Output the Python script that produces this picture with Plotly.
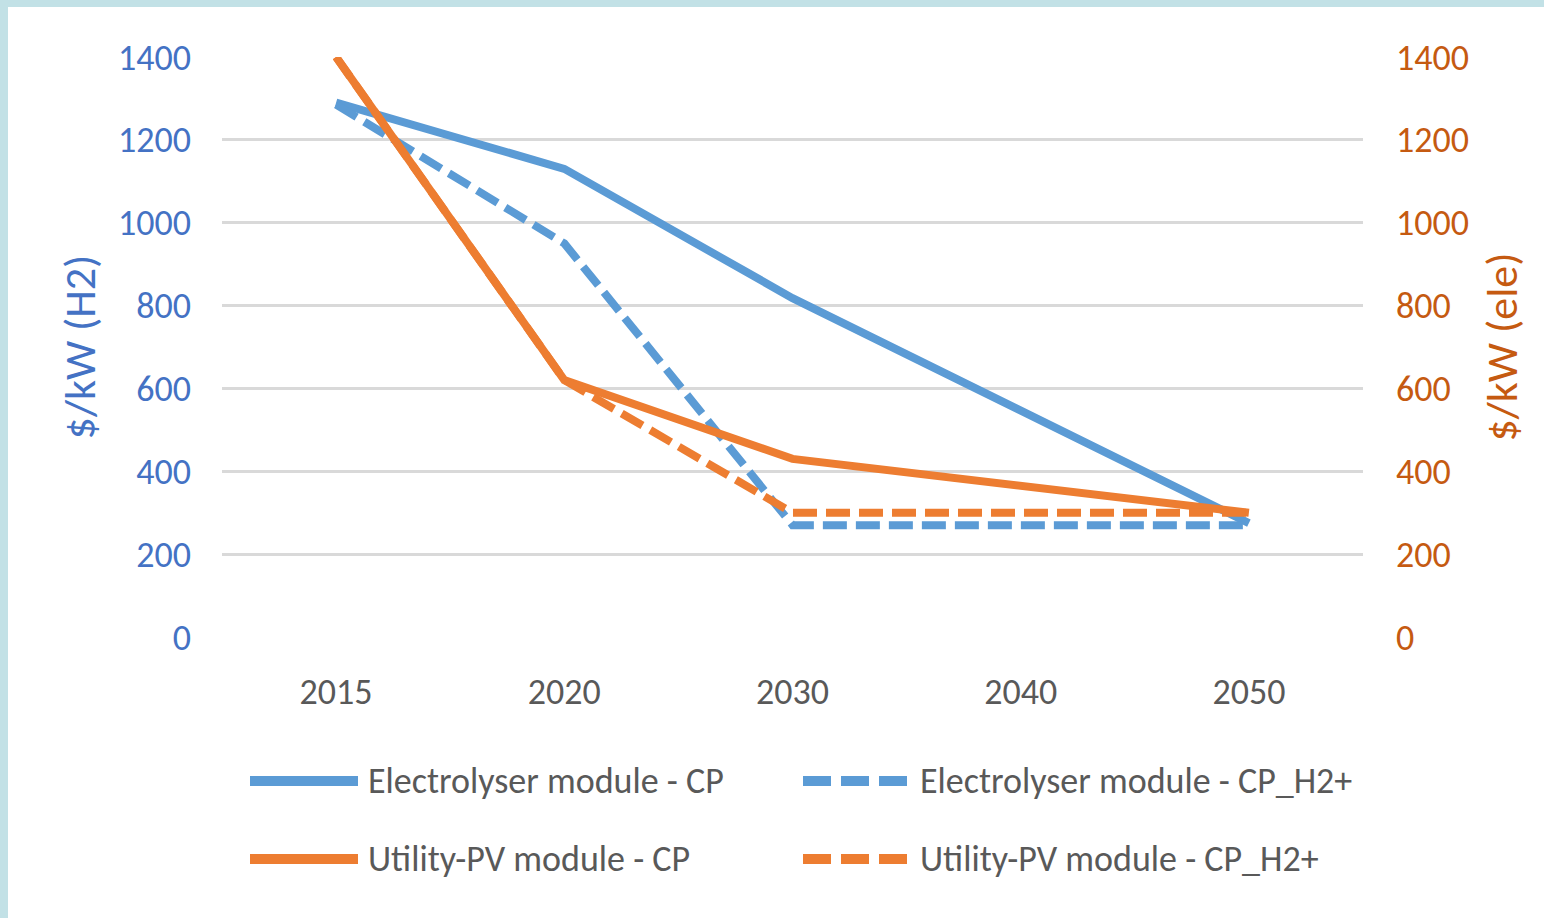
import plotly.graph_objects as go

years = ["2015", "2020", "2030", "2040", "2050"]
electrolyser_cp = [1290, 1130, 818, None, 275]
electrolyser_h2 = [1285, 950, 270, None, 270]
pv_cp = [1400, 620, 430, None, 300]
pv_h2 = [1400, 620, 300, None, 300]
series_names = ["Electrolyser module - CP", "Electrolyser module - CP_H2+",
                "Utility-PV module - CP", "Utility-PV module - CP_H2+"]
y_ticks = [0, 200, 400, 600, 800, 1000, 1200, 1400]

BLUE = "#5b9bd5"
ORANGE = "#ed7d31"
GREY = "#595959"
FRAME = "#c2e1e6"
FONT = "Carlito, Calibri, DejaVu Sans Condensed, sans-serif"
FS = 36
FS_TITLE = 44

W, H = 1544, 918
L, R, T, B = 222, 1363, 57, 637


def px(x):
    return (x - L) / (R - L)


def py(y):
    return (B - y) / (B - T)


fig = go.Figure()
fig.add_trace(go.Scatter(x=years, y=electrolyser_cp, name=series_names[0], mode="lines",
                         connectgaps=True, line=dict(color=BLUE, width=8), yaxis="y",
                         cliponaxis=False))
fig.add_trace(go.Scatter(x=years, y=electrolyser_h2, name=series_names[1], mode="lines",
                         connectgaps=True, line=dict(color=BLUE, width=8, dash="24px,9px"),
                         yaxis="y", cliponaxis=False))
fig.add_trace(go.Scatter(x=years, y=pv_cp, name=series_names[2], mode="lines",
                         connectgaps=True, line=dict(color=ORANGE, width=8), yaxis="y2",
                         cliponaxis=False))
fig.add_trace(go.Scatter(x=years, y=pv_h2, name=series_names[3], mode="lines",
                         connectgaps=True, line=dict(color=ORANGE, width=8, dash="24px,9px"),
                         yaxis="y2", cliponaxis=False))

shapes = [
    # light blue frame on the left and top edges
    dict(type="rect", xref="paper", yref="paper", x0=px(0), x1=px(8), y0=py(H), y1=py(0),
         fillcolor=FRAME, line=dict(width=0), layer="below"),
    dict(type="rect", xref="paper", yref="paper", x0=px(0), x1=px(W), y0=py(7), y1=py(0),
         fillcolor=FRAME, line=dict(width=0), layer="below"),
]
annotations = []
legend_items = [
    (series_names[0], BLUE, None, 250, 358, 781, 366),
    (series_names[1], BLUE, "28px,10px", 803, 907, 781, 918),
    (series_names[2], ORANGE, None, 250, 358, 859, 366),
    (series_names[3], ORANGE, "28px,10px", 803, 907, 859, 918),
]
for name, color, dash, sx0, sx1, sy, tx in legend_items:
    ln = dict(color=color, width=10)
    if dash:
        ln["dash"] = dash
    shapes.append(dict(type="line", xref="paper", yref="paper", x0=px(sx0), x1=px(sx1),
                       y0=py(sy), y1=py(sy), line=ln))
    annotations.append(dict(text=name, xref="paper", yref="paper", x=px(tx), y=py(sy),
                            xanchor="left", yanchor="middle", showarrow=False,
                            font=dict(family=FONT, size=FS, color=GREY)))

fig.update_layout(
    width=W, height=H,
    margin=dict(l=L, r=W - R, t=T, b=H - B, pad=0),
    paper_bgcolor="white", plot_bgcolor="white",
    showlegend=False,
    font=dict(family=FONT, size=FS, color=GREY),
    xaxis=dict(type="category", range=[-0.5, 4.5], showgrid=False, zeroline=False,
               showline=False, ticks="", ticklabelstandoff=30,
               tickfont=dict(family=FONT, size=FS, color=GREY)),
    yaxis=dict(range=[0, 1400], tickvals=y_ticks, showgrid=True, gridcolor="#d9d9d9",
               gridwidth=3, zeroline=False, showline=False, ticks="", ticklabelstandoff=30,
               tickfont=dict(family=FONT, size=FS, color="#4472c4"),
               title=dict(text="$/kW (H2)", standoff=8,
                          font=dict(family=FONT, size=FS_TITLE, color="#4472c4"))),
    yaxis2=dict(range=[0, 1400], tickvals=y_ticks, overlaying="y", side="right",
                showgrid=False, zeroline=False, showline=False, ticks="", ticklabelstandoff=32,
                tickfont=dict(family=FONT, size=FS, color="#c55a11"),
                title=dict(text="$/kW (ele)", standoff=18,
                           font=dict(family=FONT, size=FS_TITLE, color="#c55a11"))),
    shapes=shapes,
    annotations=annotations,
)

fig.write_html("out.html", config={"displayModeBar": False},
               post_script="document.body.style.margin='0';")
